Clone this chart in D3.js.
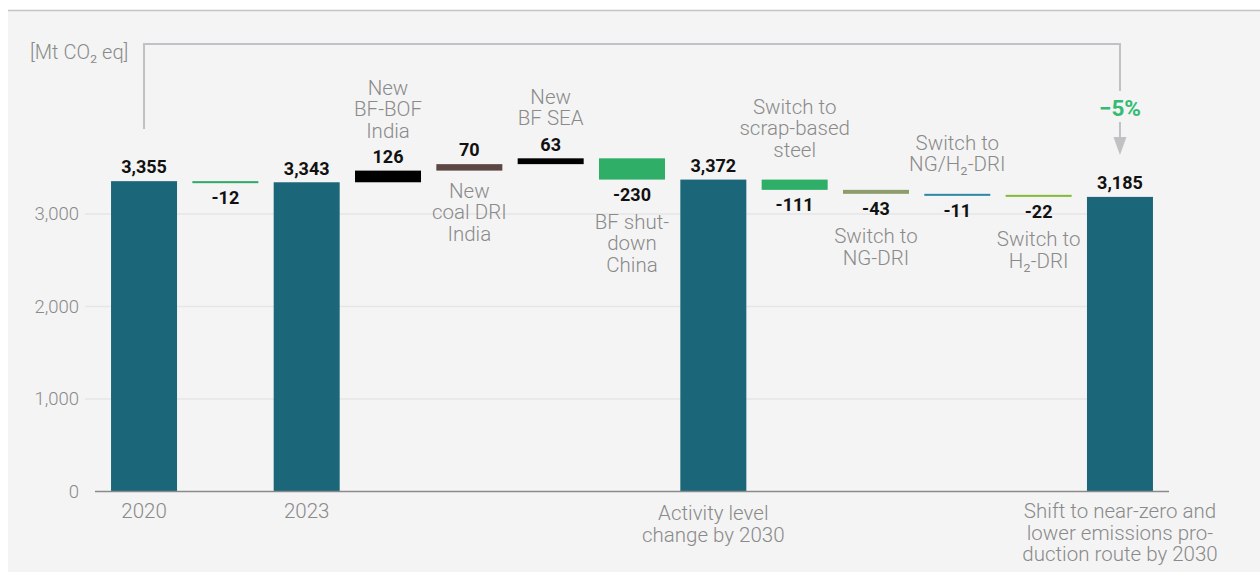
<!DOCTYPE html>
<html>
<head>
<meta charset="utf-8">
<script src="https://cdn.jsdelivr.net/npm/d3@7"></script>
<style>
  html, body { margin: 0; padding: 0; background: #fff; }
  svg { display: block; }
  text { font-family: "Roboto", "Open Sans", sans-serif; }
</style>
</head>
<body>
<svg id="chart" width="1260" height="572"></svg>
<script>
// Steps of the emissions bridge, left to right
const stepIds = ["y2020", "chg2023", "y2023", "bfBofIndia", "coalDriIndia", "bfSea",
  "bfShutChina", "activity2030", "scrap", "ngDri", "ngH2Dri", "h2Dri", "shift2030"];
const stepKinds = ["total", "delta", "total", "delta", "delta", "delta",
  "delta", "total", "delta", "delta", "delta", "delta", "total"];
const stepValues = [3355, -12, 3343, 126, 70, 63, -230, 3372, -111, -43, -11, -22, 3185];
const stepValueText = ["3,355", "-12", "3,343", "126", "70", "63", "-230", "3,372",
  "-111", "-43", "-11", "-22", "3,185"];

// Category captions drawn next to the floating bars
const stepCaptions = [
  null, null, null,
  { side: "above", lines: ["New", "BF-BOF", "India"] },
  { side: "below", lines: ["New", "coal DRI", "India"] },
  { side: "above", lines: ["New", "BF SEA"] },
  { side: "below", lines: ["BF shut-", "down", "China"] },
  null,
  { side: "above", lines: ["Switch to", "scrap-based", "steel"] },
  { side: "below", lines: ["Switch to", "NG-DRI"] },
  { side: "above", lines: ["Switch to", "NG/H₂-DRI"] },
  { side: "below", lines: ["Switch to", "H₂-DRI"] },
  null
];

// Labels under the baseline
const axisLabels = [["2020"], [], ["2023"], [], [], [], [], ["Activity level", "change by 2030"],
  [], [], [], [], ["Shift to near-zero and", "lower emissions pro-", "duction route by 2030"]];

const yTicks = [0, 1000, 2000, 3000];
const yTickText = ["0", "1,000", "2,000", "3,000"];
const unitLabel = "[Mt CO₂ eq]";
const changeLabel = "\u22125%";

// Bar fills per step
const stepColors = ["#1b6679", "#2eaa64", "#1b6679", "#000000", "#5c4744", "#000000",
  "#2fae68", "#1b6679", "#2fae68", "#8b9d6b", "#2d87a6", "#86bb3a", "#1b6679"];

const svg = d3.select("#chart");
const W = 1260, H = 572;
const GRAY = "#8a8a8a";

// Panel background
svg.append("rect").attr("x", 0).attr("y", 0).attr("width", W).attr("height", H).attr("fill", "#fff");
svg.append("rect").attr("x", 8).attr("y", 11).attr("width", W - 8).attr("height", H - 11).attr("fill", "#f4f4f4");
svg.append("line").attr("x1", 8).attr("x2", W).attr("y1", 10.5).attr("y2", 10.5)
  .attr("stroke", "#c4c4c4").attr("stroke-width", 1.5);

const x = d3.scaleBand().domain(stepIds).range([102.9, 1161.1]).paddingInner(0.1885).paddingOuter(0.1);
const y = d3.scaleLinear().domain([0, 3700]).range([491.5, 491.5 - 3700 * 0.0925]);

// Gridlines
svg.append("g").selectAll("line").data(yTicks.slice(1)).join("line")
  .attr("x1", 85).attr("x2", 1153)
  .attr("y1", d => y(d)).attr("y2", d => y(d))
  .attr("stroke", "#e6e6e6").attr("stroke-width", 1.5);

// Y axis tick labels
const yAxis = d3.axisLeft(y).tickValues(yTicks).tickSize(0).tickPadding(0)
  .tickFormat((d, i) => yTickText[i]);
const yg = svg.append("g").attr("transform", "translate(79,0)").call(yAxis);
yg.select(".domain").remove();
yg.selectAll("text").attr("font-size", 18.5).attr("fill", GRAY).attr("font-weight", 300)
  .attr("font-family", "Roboto, sans-serif");

// Compute bar extents
let running = 0;
const bars = stepIds.map((id, i) => {
  const v = stepValues[i];
  let lo, hi;
  if (stepKinds[i] === "total") { lo = 0; hi = v; running = v; }
  else { const s = running; running = s + v; lo = Math.min(s, running); hi = Math.max(s, running); }
  return { id, i, v, lo, hi, kind: stepKinds[i] };
});

svg.append("g").selectAll("rect").data(bars).join("rect")
  .attr("x", d => x(d.id))
  .attr("width", x.bandwidth())
  .attr("y", d => y(d.hi))
  .attr("height", d => Math.max(2, y(d.lo) - y(d.hi)))
  .attr("fill", d => stepColors[d.i]);

// Baseline
svg.append("line").attr("x1", 95).attr("x2", 1169).attr("y1", y(0)).attr("y2", y(0))
  .attr("stroke", "#8a8a8a").attr("stroke-width", 1.5);

// Value labels
const cx = d => x(d.id) + x.bandwidth() / 2;
const valueY = d => (d.kind === "total" || d.v > 0) ? y(d.hi) - 14 : Math.max(y(d.lo), y(d.hi) + 2) + 15;
svg.append("g").selectAll("text").data(bars).join("text")
  .attr("x", cx).attr("y", valueY).attr("dy", "0.35em")
  .attr("text-anchor", "middle").attr("font-size", 18).attr("font-weight", 700)
  .attr("fill", "#111").text(d => stepValueText[d.i]);

// Captions
const lineH = 21.5;
bars.forEach(d => {
  const cap = stepCaptions[d.i];
  if (!cap) return;
  const n = cap.lines.length;
  let firstY;
  if (cap.side === "above") {
    const lastY = d.v > 0 ? valueY(d) - 26 : y(d.hi) - 30;
    firstY = lastY - (n - 1) * lineH;
  } else {
    firstY = d.v < 0 ? valueY(d) + 27 : y(d.lo) + 20;
  }
  const t = svg.append("text").attr("text-anchor", "middle").attr("font-size", 20.5)
    .attr("font-weight", 300).attr("fill", GRAY);
  cap.lines.forEach((ln, k) => {
    t.append("tspan").attr("x", cx(d)).attr("y", firstY + k * lineH).attr("dy", "0.35em").text(ln);
  });
});

// Axis category labels
bars.forEach(d => {
  const lines = axisLabels[d.i];
  if (!lines.length) return;
  const t = svg.append("text").attr("text-anchor", "middle").attr("font-size", 20.5)
    .attr("font-weight", 300).attr("fill", GRAY);
  const y0 = lines.length === 2 ? 513 : 511;
  lines.forEach((ln, k) => {
    t.append("tspan").attr("x", cx(d)).attr("y", y0 + k * lineH).attr("dy", "0.35em").text(ln);
  });
});

// Unit label
svg.append("text").attr("x", 30).attr("y", 52).attr("dy", "0.35em")
  .attr("font-size", 20).attr("font-weight", 300).attr("fill", GRAY).text(unitLabel);

// Bracket from 2020 to the 2030 result
const xa = cx(bars[0]), xb = cx(bars[12]);
svg.append("path")
  .attr("d", `M${xa},129 V44 H${xb} V91`)
  .attr("fill", "none").attr("stroke", "#c0c1c4").attr("stroke-width", 2);
svg.append("line").attr("x1", xb).attr("x2", xb).attr("y1", 122).attr("y2", 138)
  .attr("stroke", "#c0c1c4").attr("stroke-width", 2);
svg.append("path").attr("d", `M${xb - 6.5},137 H${xb + 6.5} L${xb},155 Z`).attr("fill", "#c0c1c4");
svg.append("text").attr("x", xb).attr("y", 108).attr("dy", "0.35em").attr("text-anchor", "middle")
  .attr("font-size", 22.5).attr("font-weight", 700).attr("fill", "#35bb73").text(changeLabel);
</script>
</body>
</html>
